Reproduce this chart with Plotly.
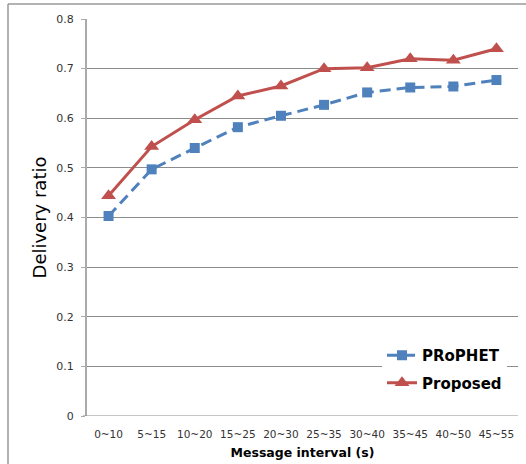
import plotly.graph_objects as go

categories = ["0~10", "5~15", "10~20", "15~25", "20~30", "25~35", "30~40", "35~45", "40~50", "45~55"]
prophet = [0.403, 0.497, 0.540, 0.582, 0.605, 0.627, 0.652, 0.662, 0.664, 0.677]
proposed = [0.444, 0.543, 0.597, 0.645, 0.665, 0.700, 0.702, 0.720, 0.717, 0.740]
y_ticks = [0, 0.1, 0.2, 0.3, 0.4, 0.5, 0.6, 0.7, 0.8]
y_labels = ["0", "0.1", "0.2", "0.3", "0.4", "0.5", "0.6", "0.7", "0.8"]

L, R, T, B = 87, 8, 19, 48
W, H = 526, 464
PW, PH = W - L - R, H - T - B

fig = go.Figure()
fig.add_trace(go.Scatter(
    x=categories, y=prophet, name="<b>PRoPHET</b>", mode="lines+markers",
    legendgroup="a",
    line=dict(color="#4F81BD", width=3, dash="11px,6px"),
    marker=dict(symbol="square", size=10, color="#4F81BD"),
))
fig.add_trace(go.Scatter(
    x=categories, y=proposed, name="<b>Proposed</b>", mode="lines+markers",
    legendgroup="b",
    line=dict(color="#C0504D", width=3),
    marker=dict(symbol="triangle-up", size=13, color="#C0504D"),
))

fig.update_layout(
    width=W, height=H,
    margin=dict(l=L, r=R, t=T, b=B, autoexpand=False),
    paper_bgcolor="white", plot_bgcolor="white",
    font=dict(family="DejaVu Sans", color="#000000"),
    showlegend=True,
    legend=dict(
        x=(382 - L) / PW, y=(H - B - 339) / PH, xanchor="left", yanchor="top",
        bgcolor="white", font=dict(size=15, family="DejaVu Sans", color="black"),
        tracegroupgap=5, itemwidth=30,
    ),
    xaxis=dict(
        type="category", range=[-0.5, 9.5], automargin=False,
        showgrid=False, showline=False, zeroline=False,
        ticks="", tickfont=dict(size=10.5, color="#333"), ticklabelstandoff=10,
        title=dict(text="<b>Message interval (s)</b>", font=dict(size=12.5), standoff=9),
    ),
    yaxis=dict(
        range=[0, 0.8], tickvals=y_ticks, ticktext=y_labels, automargin=False,
        showgrid=True, gridcolor="#8c8c8c", gridwidth=1,
        showline=True, linecolor="#aaaaaa", linewidth=2,
        ticks="outside", ticklen=4, tickcolor="#aaaaaa", ticklabelstandoff=5,
        zeroline=False, tickfont=dict(size=11, color="#333"),
        title=dict(text="Delivery ratio", font=dict(size=18), standoff=5),
    ),
)
# bottom baseline at 0
fig.add_shape(type="line", xref="paper", yref="y", x0=-4 / PW, x1=1, y0=0, y1=0,
              line=dict(color="#8c8c8c", width=1))
# outer chart frame (left and top edges)
fx = (8 - L) / PW
fy = (H - B - 4) / PH
fig.add_shape(type="line", xref="paper", yref="paper", x0=fx, x1=(W - L) / PW, y0=fy, y1=fy,
              line=dict(color="#999999", width=1.5))
fig.add_shape(type="line", xref="paper", yref="paper", x0=fx, x1=fx, y0=-B / PH, y1=fy,
              line=dict(color="#999999", width=1.5))

fig.write_html("out.html", config={"displayModeBar": False})

# remove default page margin so the figure sits at the window origin
with open("out.html", "r", encoding="utf-8") as f:
    html = f.read()
html = html.replace("<body>", '<body style="margin:0;padding:0;overflow:hidden">', 1)
with open("out.html", "w", encoding="utf-8") as f:
    f.write(html)
